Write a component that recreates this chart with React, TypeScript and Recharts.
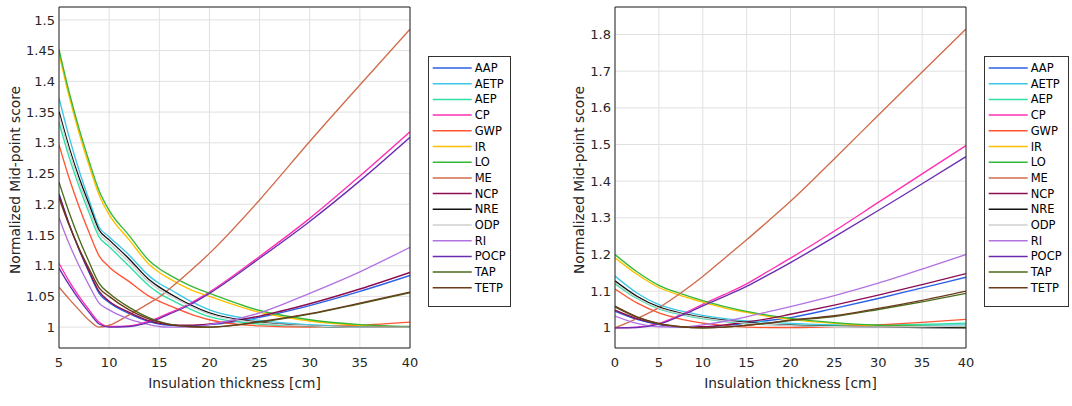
import React from 'react';
import { LineChart, Line, XAxis, YAxis, CartesianGrid } from 'recharts';

const SERIES_NAMES = ['AAP', 'AETP', 'AEP', 'CP', 'GWP', 'IR', 'LO', 'ME', 'NCP', 'NRE', 'ODP', 'RI', 'POCP', 'TAP', 'TETP'];
const SERIES_COLORS = ['#2a5fe6', '#3cc6e8', '#2ee0a6', '#ff2fb2', '#ff5533', '#ffbf00', '#35b835', '#d06c4c', '#8c0c52', '#111111', '#cfcfcf', '#b272e2', '#6a2db2', '#4a6a1a', '#6a3a1a'];

// Left panel (5-40 cm)
const LEFT_X = [5, 6, 7, 8, 9, 10, 12, 14, 15, 16, 18, 20, 25, 30, 35, 40];
const L_AAP = [1.217, 1.168, 1.126, 1.089, 1.055, 1.04, 1.022, 1.009, 1.005, 1.003, 1.002, 1.004, 1.016, 1.035, 1.058, 1.084];
const L_AETP = [1.373, 1.31, 1.255, 1.207, 1.163, 1.147, 1.117, 1.083, 1.071, 1.062, 1.043, 1.028, 1.011, 1.004, 1.001, 1.0];
const L_AEP = [1.333, 1.277, 1.229, 1.186, 1.147, 1.131, 1.099, 1.067, 1.055, 1.046, 1.03, 1.017, 1.005, 1.001, 1.0, 1.0];
const L_CP = [1.104, 1.075, 1.05, 1.028, 1.008, 1.001, 1.002, 1.01, 1.016, 1.023, 1.038, 1.057, 1.115, 1.177, 1.246, 1.318];
const L_GWP = [1.297, 1.243, 1.196, 1.154, 1.116, 1.098, 1.074, 1.05, 1.042, 1.035, 1.022, 1.012, 1.002, 1.0, 1.003, 1.008];
const L_IR = [1.445, 1.376, 1.316, 1.263, 1.215, 1.183, 1.142, 1.102, 1.089, 1.079, 1.062, 1.05, 1.024, 1.01, 1.003, 1.0];
const L_LO = [1.452, 1.383, 1.323, 1.27, 1.222, 1.19, 1.149, 1.108, 1.095, 1.085, 1.068, 1.055, 1.027, 1.012, 1.004, 1.001];
const L_ME = [1.065, 1.046, 1.028, 1.011, 1.0, 1.003, 1.02, 1.039, 1.049, 1.062, 1.09, 1.12, 1.207, 1.302, 1.394, 1.485];
const L_NCP = [1.215, 1.168, 1.127, 1.091, 1.058, 1.042, 1.024, 1.01, 1.006, 1.004, 1.003, 1.005, 1.018, 1.038, 1.062, 1.089];
const L_NRE = [1.351, 1.293, 1.243, 1.2, 1.158, 1.142, 1.111, 1.077, 1.065, 1.055, 1.037, 1.023, 1.008, 1.002, 1.0, 1.0];
const L_ODP = [1.345, 1.287, 1.237, 1.193, 1.153, 1.137, 1.106, 1.073, 1.061, 1.052, 1.035, 1.021, 1.007, 1.002, 1.0, 1.0];
const L_RI = [1.178, 1.136, 1.1, 1.068, 1.039, 1.028, 1.013, 1.004, 1.001, 1.0, 1.0, 1.004, 1.023, 1.055, 1.09, 1.13];
const L_POCP = [1.096, 1.069, 1.045, 1.024, 1.005, 1.0, 1.001, 1.008, 1.014, 1.021, 1.036, 1.055, 1.112, 1.172, 1.238, 1.309];
const L_TAP = [1.236, 1.187, 1.144, 1.106, 1.071, 1.055, 1.032, 1.015, 1.009, 1.005, 1.001, 1.0, 1.008, 1.021, 1.038, 1.056];
const L_TETP = [1.21, 1.166, 1.128, 1.095, 1.064, 1.05, 1.028, 1.013, 1.008, 1.004, 1.001, 1.0, 1.009, 1.022, 1.039, 1.057];

// Right panel (0-40 cm)
const RIGHT_X = [0, 2.5, 5, 7.5, 10, 12.5, 15, 17.5, 20, 25, 30, 35, 40];
const R_AAP = [1.045, 1.023, 1.009, 1.002, 1.002, 1.006, 1.013, 1.02, 1.028, 1.053, 1.08, 1.109, 1.138];
const R_AETP = [1.141, 1.095, 1.063, 1.046, 1.034, 1.025, 1.019, 1.015, 1.012, 1.008, 1.007, 1.007, 1.008];
const R_AEP = [1.12, 1.08, 1.052, 1.036, 1.025, 1.017, 1.012, 1.009, 1.007, 1.006, 1.007, 1.009, 1.013];
const R_CP = [1.0, 1.002, 1.012, 1.036, 1.064, 1.091, 1.12, 1.155, 1.19, 1.264, 1.342, 1.42, 1.497];
const R_GWP = [1.106, 1.068, 1.041, 1.024, 1.013, 1.006, 1.002, 1.001, 1.001, 1.003, 1.008, 1.015, 1.023];
const R_IR = [1.191, 1.146, 1.11, 1.088, 1.07, 1.054, 1.042, 1.031, 1.023, 1.012, 1.006, 1.004, 1.002];
const R_LO = [1.2, 1.153, 1.116, 1.093, 1.074, 1.058, 1.045, 1.034, 1.026, 1.014, 1.007, 1.004, 1.003];
const R_ME = [1.0, 1.025, 1.055, 1.095, 1.14, 1.19, 1.24, 1.292, 1.345, 1.461, 1.58, 1.698, 1.815];
const R_NCP = [1.048, 1.025, 1.01, 1.003, 1.003, 1.008, 1.016, 1.025, 1.037, 1.062, 1.089, 1.118, 1.148];
const R_NRE = [1.128, 1.086, 1.057, 1.04, 1.029, 1.021, 1.015, 1.01, 1.007, 1.004, 1.002, 1.001, 1.0];
const R_ODP = [1.123, 1.082, 1.054, 1.038, 1.027, 1.019, 1.013, 1.009, 1.006, 1.003, 1.002, 1.003, 1.005];
const R_RI = [1.032, 1.012, 1.003, 1.002, 1.008, 1.018, 1.03, 1.044, 1.058, 1.088, 1.122, 1.16, 1.2];
const R_POCP = [1.0, 1.001, 1.01, 1.033, 1.06, 1.086, 1.113, 1.145, 1.178, 1.248, 1.32, 1.393, 1.467];
const R_TAP = [1.057, 1.029, 1.011, 1.003, 1.0, 1.002, 1.007, 1.013, 1.02, 1.031, 1.05, 1.071, 1.094];
const R_TETP = [1.059, 1.03, 1.012, 1.003, 1.0, 1.002, 1.007, 1.013, 1.021, 1.033, 1.053, 1.075, 1.1];

const LEFT_X_TICKS = [5, 10, 15, 20, 25, 30, 35, 40];
const LEFT_Y_TICKS = [1, 1.05, 1.1, 1.15, 1.2, 1.25, 1.3, 1.35, 1.4, 1.45, 1.5];
const RIGHT_X_TICKS = [0, 5, 10, 15, 20, 25, 30, 35, 40];
const RIGHT_Y_TICKS = [1, 1.1, 1.2, 1.3, 1.4, 1.5, 1.6, 1.7, 1.8];

const X_LABEL = 'Insulation thickness [cm]';
const Y_LABEL = 'Normalized Mid-point score';

const LEFT_SERIES = [L_AAP, L_AETP, L_AEP, L_CP, L_GWP, L_IR, L_LO, L_ME, L_NCP, L_NRE, L_ODP, L_RI, L_POCP, L_TAP, L_TETP];
const RIGHT_SERIES = [R_AAP, R_AETP, R_AEP, R_CP, R_GWP, R_IR, R_LO, R_ME, R_NCP, R_NRE, R_ODP, R_RI, R_POCP, R_TAP, R_TETP];

function buildRows(xs: number[], series: number[][]) {
  return xs.map((x, i) => {
    const row: Record<string, number> = { x };
    SERIES_NAMES.forEach((n, k) => {
      row[n] = series[k][i];
    });
    return row;
  });
}

const leftData = buildRows(LEFT_X, LEFT_SERIES);
const rightData = buildRows(RIGHT_X, RIGHT_SERIES);

const FONT = 'DejaVu Sans, sans-serif';
const AX = '#262626';
const TICK_STYLE = { fontSize: 13, fontFamily: FONT, fill: AX };

type PanelProps = {
  left: number;
  width: number;
  marginRight: number;
  data: Record<string, number>[];
  xDomain: [number, number];
  xTicks: number[];
  yDomain: [number, number];
  yTicks: number[];
};

function Panel({ left, width, marginRight, data, xDomain, xTicks, yDomain, yTicks }: PanelProps) {
  return (
    <div style={{ position: 'absolute', left, top: 0, width, height: 406 }}>
      <LineChart width={width} height={406} data={data} margin={{ top: 7, right: marginRight, left: 0, bottom: 0 }}>
        <CartesianGrid xAxisId="x" yAxisId="y" stroke="#e0e0e0" strokeWidth={1} />
        <XAxis
          xAxisId="x"
          dataKey="x"
          type="number"
          domain={xDomain}
          ticks={xTicks}
          allowDataOverflow
          height={58}
          tickLine={false}
          tickSize={4}
          tickMargin={6}
          axisLine={{ stroke: AX }}
          tick={TICK_STYLE}
        />
        <XAxis xAxisId="xb" type="number" domain={xDomain} ticks={xTicks} allowDataOverflow orientation="bottom" mirror tick={false} tickSize={5} axisLine={false} tickLine={{ stroke: AX }} />
        <XAxis xAxisId="xt" type="number" domain={xDomain} ticks={xTicks} allowDataOverflow orientation="top" mirror tick={false} tickSize={5} axisLine={{ stroke: AX }} tickLine={{ stroke: AX }} />
        <YAxis
          yAxisId="y"
          type="number"
          domain={yDomain}
          ticks={yTicks}
          allowDataOverflow
          width={59}
          tickLine={false}
          tickSize={4}
          tickMargin={0}
          axisLine={{ stroke: AX }}
          tick={TICK_STYLE}
        />
        <YAxis yAxisId="yl" type="number" domain={yDomain} ticks={yTicks} allowDataOverflow orientation="left" mirror tick={false} tickSize={5} axisLine={false} tickLine={{ stroke: AX }} />
        <YAxis yAxisId="yr" type="number" domain={yDomain} ticks={yTicks} allowDataOverflow orientation="right" mirror tick={false} tickSize={5} axisLine={{ stroke: AX }} tickLine={{ stroke: AX }} />
        {SERIES_NAMES.map((n, k) => (
          <Line
            key={n}
            xAxisId="x"
            yAxisId="y"
            type="monotone"
            dataKey={n}
            stroke={SERIES_COLORS[k]}
            strokeWidth={1.35}
            dot={false}
            isAnimationActive={false}
          />
        ))}
      </LineChart>
    </div>
  );
}

function LegendBox({ left, width }: { left: number; width: number }) {
  const top = 55.7;
  const height = 251;
  return (
    <div style={{ position: 'absolute', left, top, width, height, border: '1px solid #333', background: '#fff', boxSizing: 'border-box' }}>
      <svg width={width} height={height} style={{ position: 'absolute', left: -1, top: -1 }}>
        {SERIES_NAMES.map((n, k) => {
          const y = 12 + k * 15.7;
          return (
            <g key={n}>
              <line x1={4.7} x2={43.7} y1={y} y2={y} stroke={SERIES_COLORS[k]} strokeWidth={1.5} />
              <text x={46.7} y={y} dominantBaseline="central" fontSize={11.5} fontFamily={FONT} fill="#000">
                {n}
              </text>
            </g>
          );
        })}
      </svg>
    </div>
  );
}

const labelStyle: React.CSSProperties = {
  position: 'absolute',
  fontFamily: FONT,
  fontSize: 13.75,
  color: AX,
  whiteSpace: 'nowrap',
  lineHeight: '16px',
};

export default function App() {
  return (
    <div style={{ position: 'absolute', left: 0, top: 0, width: 1072, height: 406, background: '#fff', overflow: 'hidden' }}>
      <Panel left={0} width={530} marginRight={120} data={leftData} xDomain={[5, 40]} xTicks={LEFT_X_TICKS} yDomain={[0.966, 1.521]} yTicks={LEFT_Y_TICKS} />
      <Panel left={556} width={516} marginRight={106} data={rightData} xDomain={[0, 40]} xTicks={RIGHT_X_TICKS} yDomain={[0.945, 1.875]} yTicks={RIGHT_Y_TICKS} />
      <LegendBox left={428.3} width={82.7} />
      <LegendBox left={984.3} width={84.7} />
      <div style={{ ...labelStyle, left: 234.5, top: 383, transform: 'translate(-50%, -50%)' }}>{X_LABEL}</div>
      <div style={{ ...labelStyle, left: 790.5, top: 383, transform: 'translate(-50%, -50%)' }}>{X_LABEL}</div>
      <div style={{ ...labelStyle, left: 15, top: 180, transform: 'translate(-50%, -50%) rotate(-90deg)' }}>{Y_LABEL}</div>
      <div style={{ ...labelStyle, left: 579, top: 180, transform: 'translate(-50%, -50%) rotate(-90deg)' }}>{Y_LABEL}</div>
    </div>
  );
}
